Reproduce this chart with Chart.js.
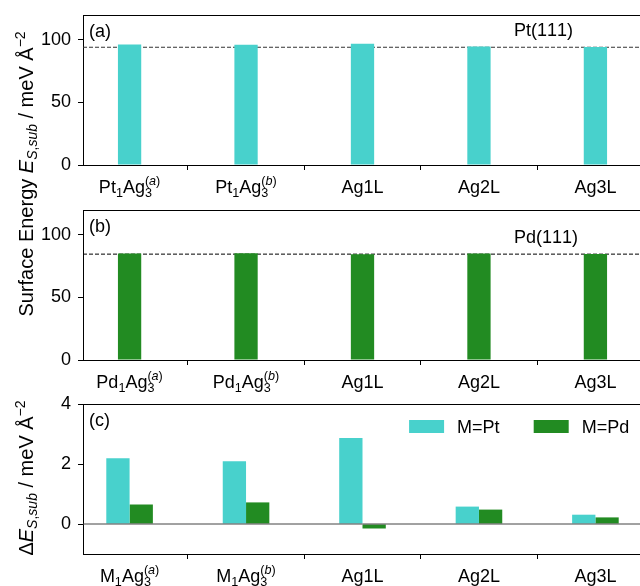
<!DOCTYPE html>
<html>
<head>
<meta charset="utf-8">
<script src="https://cdn.jsdelivr.net/npm/chart.js@4.4.1/dist/chart.umd.min.js"></script>
<style>
html, body { margin: 0; padding: 0; background: #fff; overflow: hidden; }
#wrap { position: relative; width: 640px; height: 586px; overflow: hidden; }
#wrap canvas { position: absolute; left: 0; }
</style>
</head>
<body>
<div id="wrap">
    <canvas id="panelA" width="660" height="200" style="top:0"></canvas>
    <canvas id="panelB" width="660" height="200" style="top:195px"></canvas>
    <canvas id="panelC" width="660" height="197" style="top:389px"></canvas>
    <canvas id="labels" width="640" height="586" style="top:0"></canvas>
</div>
<script>
'use strict';
// values
const X_POS = [0, 1, 2, 3, 4];
const X_MIN = -0.4, X_MAX = 4.4;
const LABELS_A = ['Pt_{1}Ag_{3}^{(a)}', 'Pt_{1}Ag_{3}^{(b)}', 'Ag1L', 'Ag2L', 'Ag3L'];
const LABELS_B = ['Pd_{1}Ag_{3}^{(a)}', 'Pd_{1}Ag_{3}^{(b)}', 'Ag1L', 'Ag2L', 'Ag3L'];
const LABELS_C = ['M_{1}Ag_{3}^{(a)}', 'M_{1}Ag_{3}^{(b)}', 'Ag1L', 'Ag2L', 'Ag3L'];
const ES_PT = [96.4, 96.3, 97.1, 94.8, 94.5];
const ES_PD = [85.3, 85.4, 84.6, 85.2, 84.9];
const PT111 = 94.2;
const PD111 = 84.7;
const DES_PT = [2.19, 2.09, 2.87, 0.58, 0.31];
const DES_PD = [0.65, 0.72, -0.15, 0.48, 0.22];
const TICKS_AB = [0, 50, 100];
const TICKS_C = [0, 2, 4];

const PT_COLOR = '#48d1cc';
const PD_COLOR = '#228b22';
const FONT = "'Liberation Sans', Arial, sans-serif";
const FS = 18;

function fontStr(italic, size) {
    return (italic ? 'italic ' : '') + size + 'px ' + FONT;
}

// tiny mathtext-ish layout: *x* italic, _{..} subscript, ^{..} superscript
function layoutRich(ctx, src, F) {
    const runs = [];
    let x = 0, it = false, i = 0, lastSub = null;
    while (i < src.length) {
        const c = src[i];
        if (c === '*') { it = !it; i++; continue; }
        if ((c === '_' || c === '^') && src[i + 1] === '{') {
            const j = src.indexOf('}', i);
            const body = src.slice(i + 2, j);
            const isSub = c === '_';
            const start = (!isSub && lastSub) ? lastSub.start : x;
            let gx = start;
            for (const ch of body) {
                const f = fontStr(/[A-Za-z]/.test(ch), F * 0.7);
                ctx.font = f;
                runs.push({ t: ch, f, x: gx, dy: isSub ? 0.2 * F : -0.42 * F });
                gx += ctx.measureText(ch).width;
            }
            if (isSub) { lastSub = { start, end: gx }; x = gx; }
            else { x = Math.max(gx, lastSub ? lastSub.end : 0); lastSub = null; }
            i = j + 1;
            continue;
        }
        lastSub = null;
        const f = fontStr(it, F);
        ctx.font = f;
        runs.push({ t: c, f, x, dy: 0 });
        x += ctx.measureText(c).width;
        i++;
    }
    return { runs, width: x };
}

function drawRich(ctx, src, F, x, y, align) {
    const lay = layoutRich(ctx, src, F);
    const off = align === 'center' ? -lay.width / 2 : align === 'right' ? -lay.width : 0;
    ctx.textBaseline = 'alphabetic';
    ctx.textAlign = 'left';
    ctx.fillStyle = '#000';
    lay.runs.forEach(r => {
        ctx.font = r.f;
        ctx.fillText(r.t, x + off + r.x, y + r.dy);
    });
}

// box, x tick labels, panel tag, reference label, legend
const decor = {
    id: 'decor',
    afterDatasetsDraw(chart) {
        const o = chart.options.plugins.decor;
        const ctx = chart.ctx;
        const a = chart.chartArea;
        const xs = chart.scales.x, ys = chart.scales.y;
        ctx.save();
        ctx.strokeStyle = '#000';
        ctx.lineWidth = 1;
        ctx.beginPath();
        ctx.moveTo(Math.round(a.left) + 0.5, Math.round(a.top) + 0.5);
        ctx.lineTo(Math.round(a.right) + 0.5, Math.round(a.top) + 0.5);
        ctx.stroke();
        o.labels.forEach((lab, i) => {
            drawRich(ctx, lab, FS, xs.getPixelForValue(X_POS[i]), a.bottom + 28, 'center');
        });
        drawRich(ctx, o.tag, FS, a.left + 6, a.top + 22, 'left');
        if (o.ref) {
            drawRich(ctx, o.ref.text, FS, xs.getPixelForValue(3.3), ys.getPixelForValue(o.ref.y + 9), 'left');
        }
        if (o.legend) {
            o.legend.forEach(item => {
                const lx = xs.getPixelForValue(item.x);
                const ly = a.top + 16;
                ctx.fillStyle = item.color;
                ctx.fillRect(lx, ly, 35, 13);
                drawRich(ctx, item.text, FS, lx + 48, ly + 13, 'left');
            });
        }
        ctx.restore();
    },
};

function makePanel(id, height, datasets, yMin, yMax, yTicks, decorOpts) {
    const plotH = 150;
    return new Chart(document.getElementById(id), {
        type: 'bar',
        data: { datasets },
        options: {
            responsive: false,
            animation: false,
            layout: { padding: { top: 15, right: 18, left: 0, bottom: 0 } },
            plugins: { legend: { display: false }, tooltip: { enabled: false }, decor: decorOpts },
            scales: {
                x: {
                    type: 'linear', min: X_MIN, max: X_MAX, offset: false,
                    afterBuildTicks: s => { s.ticks = X_POS.map(v => ({ value: v })); },
                    afterFit: s => { s.height = height - 15 - plotH; },
                    ticks: { display: false },
                    grid: { drawOnChartArea: false, drawTicks: true, tickLength: 5, tickColor: '#000' },
                    border: { color: '#000', width: 1 },
                },
                y: {
                    min: yMin, max: yMax,
                    afterBuildTicks: s => { s.ticks = yTicks.map(v => ({ value: v })); },
                    afterFit: s => { s.width = 83; s.paddingTop = 0; s.paddingBottom = 0; },
                    ticks: { color: '#000', font: { family: FONT, size: FS }, padding: 7 },
                    grid: { drawOnChartArea: false, drawTicks: true, tickLength: 5, tickColor: '#000' },
                    border: { color: '#000', width: 1 },
                },
            },
        },
        plugins: [decor],
    });
}

function barSet(values, color, pct) {
    return {
        type: 'bar', order: 0,
        data: values.map((v, i) => ({ x: X_POS[i], y: v })),
        backgroundColor: color, borderWidth: 0,
        categoryPercentage: pct, barPercentage: 1, grouped: true,
    };
}

function hLine(y, dash, color, order) {
    return {
        type: 'line', order,
        data: [{ x: X_MIN, y }, { x: X_MAX, y }],
        borderColor: color, borderWidth: 1, borderDash: dash,
        pointRadius: 0, fill: false,
    };
}

makePanel('panelA', 200,
    [barSet(ES_PT, PT_COLOR, 0.2), hLine(PT111, [4, 2], '#333', 1)],
    0, 120, TICKS_AB,
    { labels: LABELS_A, tag: '(a)', ref: { text: 'Pt(111)', y: PT111 } });

makePanel('panelB', 200,
    [barSet(ES_PD, PD_COLOR, 0.2), hLine(PD111, [4, 2], '#000', 1)],
    0, 120, TICKS_AB,
    { labels: LABELS_B, tag: '(b)', ref: { text: 'Pd(111)', y: PD111 } });

makePanel('panelC', 197,
    [barSet(DES_PT, PT_COLOR, 0.4), barSet(DES_PD, PD_COLOR, 0.4), hLine(0, [], '#444', -1)],
    -1, 4, TICKS_C,
    { labels: LABELS_C, tag: '(c)',
      legend: [{ x: 2.4, color: PT_COLOR, text: 'M=Pt' }, { x: 3.47, color: PD_COLOR, text: 'M=Pd' }] });

// shared y-axis titles
(function () {
    const ctx = document.getElementById('labels').getContext('2d');
    const YF = 20;
    function rotated(src, cx, cy) {
        ctx.save();
        ctx.translate(cx, cy);
        ctx.rotate(-Math.PI / 2);
        drawRich(ctx, src, YF, 0, 0.36 * YF, 'center');
        ctx.restore();
    }
    rotated('Surface Energy *E*_{S,sub} / meV Å^{−2}', 26, 174);
    rotated('Δ*E*_{S,sub} / meV Å^{−2}', 26, 478);
})();
</script>
</body>
</html>
